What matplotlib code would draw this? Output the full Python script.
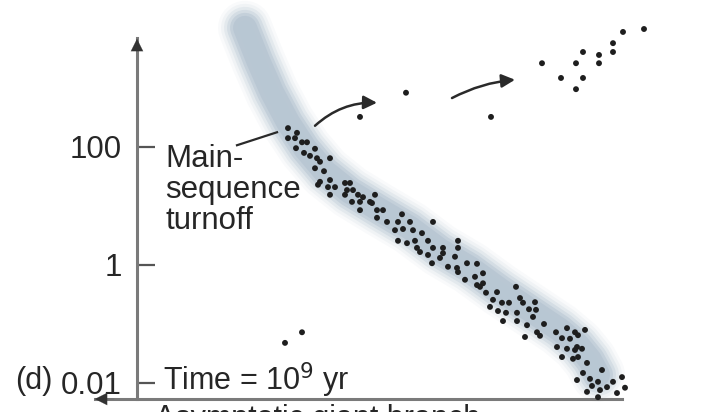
import numpy as np
import matplotlib
matplotlib.use("Agg")
import matplotlib.pyplot as plt

plt.rcParams['font.family'] = ['Liberation Sans', 'DejaVu Sans']

# ---- data (x: arbitrary temperature coordinate, cooler to the right; logL: log10 luminosity) ----
ms_x = [151, 160, 158, 151, 165, 170, 159, 167, 178, 173, 180, 193, 183, 178, 187, 183, 181, 193,
        191, 198, 208, 213, 210, 216, 193, 208, 221, 226, 238, 215, 223, 233, 223, 235, 240, 246,
        240, 250, 265, 261, 273, 296, 258, 266, 276, 285, 261, 270, 278, 291, 321, 321, 280, 283,
        296, 306, 306, 291, 303, 318, 295, 311, 320, 330, 340, 321, 328, 338, 346, 340, 346, 343,
        349, 360, 379, 356, 365, 372, 383, 386, 398, 353, 361, 369, 380, 392, 399, 366, 380, 396,
        390, 407, 400, 403, 388, 419, 430, 425, 433, 441, 448, 420, 440, 438, 430, 438, 445, 425,
        436, 441, 450, 446, 465, 440, 453, 461, 476, 485, 455, 470, 450, 463, 488, 480, 461]
ms_logL = [2.32, 2.24, 2.15, 2.15, 2.08, 2.08, 1.98, 1.90, 1.97, 1.85, 1.81, 1.81, 1.75, 1.64, 1.59,
           1.41, 1.36, 1.44, 1.32, 1.32, 1.39, 1.39, 1.27, 1.27, 1.19, 1.19, 1.19, 1.15, 1.19, 1.07,
           1.07, 1.07, 0.93, 1.05, 0.93, 0.93, 0.80, 0.73, 0.86, 0.73, 0.73, 0.73, 0.59, 0.61, 0.59,
           0.54, 0.41, 0.37, 0.41, 0.41, 0.41, 0.29, 0.29, 0.22, 0.29, 0.29, 0.20, 0.17, 0.12, 0.14,
           0.03, -0.03, -0.05, 0.03, 0.02, -0.12, -0.25, -0.20, -0.14, -0.34, -0.31, -0.37, -0.47,
           -0.46, -0.37, -0.59, -0.64, -0.64, -0.56, -0.64, -0.63, -0.71, -0.78, -0.81, -0.81, -0.75,
           -0.76, -0.95, -0.95, -0.88, -1.02, -1.00, -1.14, -1.20, -1.22, -1.14, -1.07, -1.24, -1.25,
           -1.19, -1.10, -1.39, -1.39, -1.14, -1.42, -1.44, -1.42, -1.56, -1.59, -1.56, -1.66, -1.83,
           -1.78, -1.95, -1.93, -1.98, -1.98, -1.90, -2.05, -2.07, -2.15, -2.12, -2.08, -2.17, -2.24]

giant_x = [223, 269, 354, 405, 424, 439, 439, 446, 446, 462, 462, 476, 476, 486, 507]
giant_logL = [2.51, 2.92, 2.51, 3.42, 3.17, 3.42, 2.98, 3.61, 3.17, 3.56, 3.42, 3.76, 3.61, 3.95, 4.00]

wd_x = [148, 165]
wd_logL = [-1.32, -1.14]

band_x = [108, 121, 135, 151, 168, 188, 213, 243, 273, 303, 333, 363, 393, 423, 441, 453, 461]
band_logL = [4.02, 3.47, 2.93, 2.42, 1.98, 1.58, 1.24, 0.93, 0.63, 0.25, -0.05, -0.42, -0.76,
             -1.10, -1.36, -1.61, -1.86]

ytick_vals = [100, 1, 0.01]
ytick_labels = ['100', '1', '0.01']

L = lambda v: 10 ** np.asarray(v, dtype=float)

fig = plt.figure(figsize=(7.2, 4.12), dpi=100)
ax = fig.add_axes([0, 0, 1, 1])
ax.set_yscale('log')
ax.set_xlim(-137, 583)
ax.set_ylim(10 ** (-2 - 29 / 59), 10 ** (383 / 59 - 2))
ax.patch.set_alpha(0)

TXT = '#262626'
AX = '#7a7a7a'

for s in ['top', 'right']:
    ax.spines[s].set_visible(False)
y_base = 10 ** (-2 - 16 / 59)
y_top = 10 ** (345 / 59 - 2)
ax.spines['left'].set_position(('data', 0))
ax.spines['left'].set_bounds(y_base, y_top)
ax.spines['bottom'].set_position(('data', y_base))
ax.spines['bottom'].set_bounds(-42, 485)
for s in ['left', 'bottom']:
    ax.spines[s].set_color(AX)
    ax.spines[s].set_linewidth(2.2)
ax.set_xticks([])
ax.set_yticks(ytick_vals, ytick_labels)
ax.yaxis.set_minor_locator(matplotlib.ticker.NullLocator())
ax.tick_params(axis='y', direction='in', length=13, width=1.6, color='#555555',
               labelsize=22.5, labelcolor=TXT, pad=11)

# arrow heads on axes
ax.annotate('', xy=(0, y_top * 1.08), xytext=(0, y_top / 1.3),
            arrowprops=dict(arrowstyle='-|>', color='#333333', lw=0.1, mutation_scale=22))
ax.annotate('', xy=(-45, y_base), xytext=(-20, y_base),
            arrowprops=dict(arrowstyle='-|>', color='#333333', lw=0.1, mutation_scale=22))

# blurred band
bx, bl = np.asarray(band_x), L(band_logL)
for w, a, c in [(54, 0.05, '#8ca2ba'), (48, 0.08, '#8ca2ba'), (42, 0.11, '#8099b3'),
                (36, 0.15, '#8099b3'), (30, 0.18, '#7d95ae'), (24, 0.18, '#8aa0b8'),
                (14, 0.12, '#b8c8d8')]:
    ax.plot(bx, bl, color=c, lw=w * 0.72, alpha=a, solid_capstyle='round',
            solid_joinstyle='round', zorder=1)

# stars
kw = dict(s=18, color='#1e1e1e', edgecolors='none', zorder=3)
ax.scatter(ms_x, L(ms_logL), **kw)
ax.scatter(giant_x, L(giant_logL), **kw)
ax.scatter(wd_x, L(wd_logL), **kw)

# evolution arrows
ax.annotate('', xy=(240, L(2.75)), xytext=(178, L(2.36)),
            arrowprops=dict(arrowstyle='-|>', color='#2a2a2a', lw=1.8, mutation_scale=20,
                            connectionstyle='arc3,rad=-0.2', shrinkA=0, shrinkB=0))
ax.annotate('', xy=(378, L(3.14)), xytext=(315, L(2.83)),
            arrowprops=dict(arrowstyle='-|>', color='#2a2a2a', lw=1.8, mutation_scale=20,
                            connectionstyle='arc3,rad=-0.1', shrinkA=0, shrinkB=0))

# turnoff label and pointer
ax.plot([100, 140], [L(2.03), L(2.25)], color='#2a2a2a', lw=1.6, zorder=2)
ax.text(28, L(2.05), 'Main-\nsequence\nturnoff', fontsize=22.5, color=TXT,
        ha='left', va='top', linespacing=1.05)

ax.text(26, L(-1.95), 'Time = 10$^{9}$ yr', fontsize=22, color=TXT, ha='left', va='center')
ax.text(-122, L(-1.97), '(d)', fontsize=22, color=TXT, ha='left', va='center')
ax.text(18, L(-2.36), 'Asymptotic giant branch', fontsize=22, color=TXT, ha='left', va='top')

fig.savefig('out.png', dpi=100)
